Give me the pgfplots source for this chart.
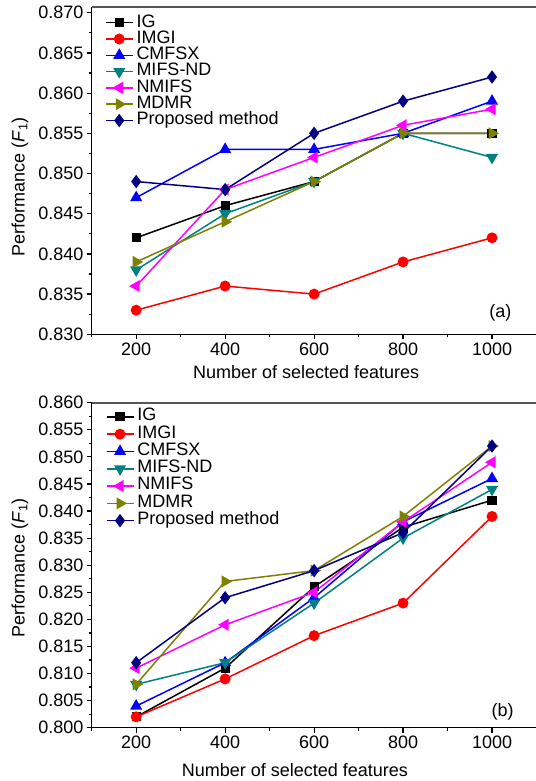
\documentclass[border=0pt]{standalone}
\usepackage{fontspec}
\setmainfont{Liberation Sans}
\usepackage{pgfplots}
\pgfplotsset{compat=1.18}
\definecolor{cIG}{RGB}{0,0,0}
\definecolor{cIMGI}{RGB}{255,0,0}
\definecolor{cCMF}{RGB}{0,0,255}
\definecolor{cMIFS}{RGB}{0,128,128}
\definecolor{cNMI}{RGB}{255,0,255}
\definecolor{cMDMR}{RGB}{128,128,0}
\definecolor{cProp}{RGB}{0,0,128}
\definecolor{topgray}{RGB}{85,85,85}

\pgfplotsset{
  panel/.style={
    scale only axis,
    width=444.8pt,
    xmin=100, xmax=1100,
    axis x line*=bottom, axis y line*=left,
    xtick={200,400,600,800,1000},
    minor xtick={100,300,500,700,900,1100},
    minor y tick num=1,
    tick align=outside,
    major tick length=5pt, minor tick length=3pt,
    axis line style={line width=1.4pt, black},
    every tick/.style={line width=1.2pt, black},
    font=\fontsize{18pt}{21pt}\selectfont,
    tick label style={font=\fontsize{18pt}{21pt}\selectfont},
    /pgf/number format/assume math mode=true,
    yticklabel style={/pgf/number format/fixed, /pgf/number format/fixed zerofill, /pgf/number format/precision=3, inner xsep=3pt},
    xticklabel style={/pgf/number format/fixed, /pgf/number format/set thousands separator={}, inner ysep=3.3pt},
    clip=false,
    legend cell align=left,
    legend image code/.code={\draw[mark repeat=2,mark phase=2,#1] plot coordinates {(0pt,0pt) (13.5pt,0pt) (27pt,0pt)};},
    every axis plot/.append style={line width=1.5pt},
  },
  pIG/.style={color=cIG, mark=square*, mark size=3.8pt, mark options={solid}},
  pIMGI/.style={color=cIMGI, mark=*, mark size=4.7pt},
  pCMF/.style={color=cCMF, mark=triangle*, mark size=5.5pt},
  pMIFS/.style={color=cMIFS, mark=triangle*, mark size=5.5pt, mark options={rotate=180}},
  pNMI/.style={color=cNMI, mark=triangle*, mark size=5.5pt, mark options={rotate=90}},
  pMDMR/.style={color=cMDMR, mark=triangle*, mark size=5.5pt, mark options={rotate=-90}},
  pProp/.style={color=cProp, mark=diamond*, mark size=5.5pt},
}

\begin{document}
\begin{tikzpicture}
\useasboundingbox (0pt,0pt) rectangle (535pt,781pt);

% ---------------- panel (a)
\begin{axis}[panel,
  at={(91.7pt,446.7pt)}, anchor=south west,
  height=327.6pt,
  ymin=0.830, ymax=0.87075,
  ytick={0.830,0.835,0.840,0.845,0.850,0.855,0.860,0.865,0.870},
  xlabel={Number of selected features},
  xlabel style={at={(axis description cs:0.482,-0.135)}, anchor=base},
  ylabel={Performance (\textit{F}\textsubscript{1})},
  ylabel style={at={(axis description cs:-0.161,0.45)}, anchor=center, rotate=0},
  legend style={draw=none, fill=none, at={(axis description cs:0.0299,0.976)}, anchor=north west,
    inner sep=0pt, outer sep=0pt, row sep=0pt,
    nodes={inner ysep=0pt, inner xsep=3pt, text height=12.5pt, text depth=3.8pt, font=\fontsize{18pt}{21pt}\selectfont}},
]
\draw[topgray, line width=1.8pt] (rel axis cs:0,1) -- (rel axis cs:1.05,1);
\addplot[pIG] coordinates {(200,0.842) (400,0.846) (600,0.849) (800,0.855) (1000,0.855)};
\addplot[pIMGI] coordinates {(200,0.833) (400,0.836) (600,0.835) (800,0.839) (1000,0.842)};
\addplot[pCMF] coordinates {(200,0.847) (400,0.853) (600,0.853) (800,0.855) (1000,0.859)};
\addplot[pMIFS] coordinates {(200,0.838) (400,0.845) (600,0.849) (800,0.855) (1000,0.852)};
\addplot[pNMI] coordinates {(200,0.836) (400,0.848) (600,0.852) (800,0.856) (1000,0.858)};
\addplot[pMDMR] coordinates {(200,0.839) (400,0.844) (600,0.849) (800,0.855) (1000,0.855)};
\addplot[pProp] coordinates {(200,0.849) (400,0.848) (600,0.855) (800,0.859) (1000,0.862)};
\legend{IG,IMGI,CMFSX,MIFS-ND,NMIFS,MDMR,Proposed method}
\node[font=\fontsize{18pt}{21pt}\selectfont] at (axis description cs:0.919,0.0665) {(a)};
\end{axis}

% ---------------- panel (b)
\begin{axis}[panel,
  at={(91.7pt,53.3pt)}, anchor=south west,
  height=325pt,
  ymin=0.800, ymax=0.860,
  ytick={0.800,0.805,0.810,0.815,0.820,0.825,0.830,0.835,0.840,0.845,0.850,0.855,0.860},
  xlabel={Number of selected features},
  xlabel style={at={(axis description cs:0.457,-0.149)}, anchor=base},
  ylabel={Performance (\textit{F}\textsubscript{1})},
  ylabel style={at={(axis description cs:-0.161,0.491)}, anchor=center, rotate=0},
  legend style={draw=none, fill=none, at={(axis description cs:0.0317,0.983)}, anchor=north west,
    inner sep=0pt, outer sep=0pt, row sep=0pt,
    nodes={inner ysep=0pt, inner xsep=3pt, text height=12.5pt, text depth=4.8pt, font=\fontsize{18pt}{21pt}\selectfont}},
]
\draw[topgray, line width=1.8pt] (rel axis cs:0,1) -- (rel axis cs:1.05,1);
\addplot[pIG] coordinates {(200,0.802) (400,0.811) (600,0.826) (800,0.837) (1000,0.842)};
\addplot[pIMGI] coordinates {(200,0.802) (400,0.809) (600,0.817) (800,0.823) (1000,0.839)};
\addplot[pCMF] coordinates {(200,0.804) (400,0.812) (600,0.824) (800,0.838) (1000,0.846)};
\addplot[pMIFS] coordinates {(200,0.808) (400,0.812) (600,0.823) (800,0.835) (1000,0.844)};
\addplot[pNMI] coordinates {(200,0.811) (400,0.819) (600,0.825) (800,0.838) (1000,0.849)};
\addplot[pMDMR] coordinates {(200,0.808) (400,0.827) (600,0.829) (800,0.839) (1000,0.852)};
\addplot[pProp] coordinates {(200,0.812) (400,0.824) (600,0.829) (800,0.836) (1000,0.852)};
\legend{IG,IMGI,CMFSX,MIFS-ND,NMIFS,MDMR,Proposed method}
\node[font=\fontsize{18pt}{21pt}\selectfont] at (axis description cs:0.9236,0.049) {(b)};
\end{axis}
\end{tikzpicture}
\end{document}
